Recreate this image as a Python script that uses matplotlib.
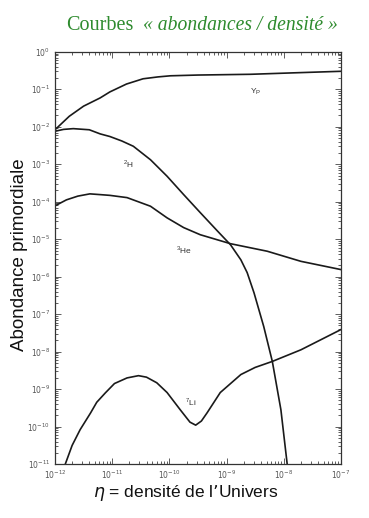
import numpy as np
import matplotlib.pyplot as plt
from matplotlib.ticker import LogLocator, NullFormatter

# log10(eta), log10(abundance)
yp_x = [-12.0, -11.75, -11.5, -11.21, -11.04, -10.75, -10.46, -10.2, -9.98, -9.5, -8.58, -7.8, -7.0]
yp_y = [-2.08, -1.72, -1.45, -1.23, -1.07, -0.86, -0.72, -0.67, -0.64, -0.62, -0.6, -0.56, -0.52]

h2_x = [-12.0, -11.85, -11.68, -11.4, -11.21, -11.04, -10.83, -10.63, -10.33, -10.04, -9.75, -9.46,
        -9.16, -8.93, -8.75, -8.64, -8.52, -8.35, -8.20, -8.05, -7.94]
h2_y = [-2.12, -2.07, -2.05, -2.08, -2.19, -2.26, -2.38, -2.52, -2.88, -3.32, -3.81, -4.29,
        -4.78, -5.15, -5.55, -5.89, -6.43, -7.33, -8.26, -9.55, -11.0]

he3_x = [-12.0, -11.8, -11.6, -11.39, -11.21, -11.04, -10.74, -10.33, -10.04, -9.75, -9.46, -8.93,
         -8.29, -7.7, -7.0]
he3_y = [-4.11, -3.95, -3.85, -3.79, -3.81, -3.83, -3.89, -4.12, -4.43, -4.69, -4.88, -5.12,
         -5.32, -5.59, -5.81]

li_x = [-11.82, -11.7, -11.56, -11.38, -11.27, -11.12, -10.96, -10.74, -10.54, -10.4, -10.22,
        -10.04, -9.81, -9.64, -9.54, -9.44, -9.34, -9.11, -8.75, -8.5, -8.20, -7.70, -7.0]
li_y = [-11.0, -10.5, -10.08, -9.64, -9.35, -9.1, -8.85, -8.7, -8.64, -8.68, -8.83,
        -9.09, -9.55, -9.88, -9.96, -9.85, -9.63, -9.09, -8.61, -8.42, -8.26, -7.95, -7.41]

xticks = [-12, -11, -10, -9, -8, -7]
yticks = list(range(-11, 1))

plt.rcParams['font.family'] = ['Liberation Sans', 'DejaVu Sans']
fig = plt.figure(figsize=(3.69, 5.18), dpi=100)
ax = fig.add_axes([0.149, 0.104, 0.775, 0.796])

lc = '#1a1a1a'
for xs, ys in [(yp_x, yp_y), (h2_x, h2_y), (he3_x, he3_y), (li_x, li_y)]:
    ax.plot(10.0 ** np.array(xs), 10.0 ** np.array(ys), color=lc, lw=1.2)

ax.set_xscale('log')
ax.set_yscale('log')
ax.set_xlim(1e-12, 1e-7)
ax.set_ylim(1e-11, 1e0)
ax.set_xticks([10.0 ** t for t in xticks])
ax.set_xticklabels([r'$10^{%d}$' % t for t in xticks])
ax.set_yticks([10.0 ** t for t in yticks])
ax.set_yticklabels([r'$10^{%d}$' % t for t in yticks])
ax.xaxis.set_minor_locator(LogLocator(base=10, subs=np.arange(2, 10), numticks=20))
ax.yaxis.set_minor_locator(LogLocator(base=10, subs=np.arange(2, 10), numticks=20))
ax.xaxis.set_minor_formatter(NullFormatter())
ax.yaxis.set_minor_formatter(NullFormatter())
ax.tick_params(which='both', direction='in', top=True, right=True, colors='#444444',
               labelsize=5.5, labelcolor='#555555', width=0.6)
ax.tick_params(which='major', length=4)
ax.tick_params(which='minor', length=2)
for s in ax.spines.values():
    s.set_linewidth(0.9)
    s.set_color('#333333')

ax.text(10 ** -8.49, 10 ** -1.07, r'Y$_\mathregular{P}$', fontsize=6, color='#333333', ha='center', va='center')
ax.text(10 ** -10.72, 10 ** -3.0, r'$^\mathregular{2}$H', fontsize=6, color='#333333', ha='center', va='center')
ax.text(10 ** -9.75, 10 ** -5.3, r'$^\mathregular{3}$He', fontsize=6, color='#333333', ha='center', va='center')
ax.text(10 ** -9.63, 10 ** -9.35, r'$^\mathregular{7}$Li', fontsize=6, color='#333333', ha='center', va='center')

fig.text(20 / 369, 1 - 255 / 518, 'Abondance primordiale', rotation=90, fontsize=13.5,
         ha='center', va='center', color='#111111')
fig.text(186 / 369, 1 - 493 / 518, r'$\eta$ = densité de l’Univers', fontsize=12.5,
         ha='center', va='center', color='#111111')

green = '#2e8b2e'
fig.text(66 / 369, 1 - 25 / 518, 'Courbes', fontsize=14.5, family='Liberation Serif',
         color=green, ha='left', va='center')
fig.text(143 / 369, 1 - 25 / 518, '« abondances / densité »', fontsize=14.1, family='Liberation Serif',
         style='italic', color=green, ha='left', va='center')

fig.savefig('out.png', dpi=100)
